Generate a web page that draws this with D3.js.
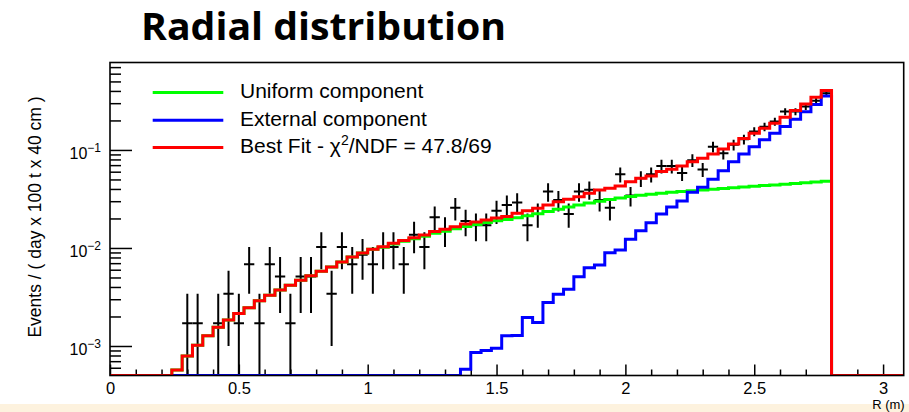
<!DOCTYPE html>
<html>
<head>
<meta charset="utf-8">
<script src="https://cdn.jsdelivr.net/npm/d3@7"></script>
<style>
  html, body { margin: 0; padding: 0; background: #ffffff; }
  svg { display: block; }
</style>
</head>
<body>
<svg id="chart" width="909" height="412"></svg>
<script>
// ---- Data: event rate per 40 cm radial bin, bins of width 0.04 m starting at R = 0 ----
const binWidth = 0.04;
const rMax = 3.08;
const yMin = 5e-4;
const yMax = 0.78;

// Uniform component (fit), bins 0..69
const uniformComponent = [
  0, 0, 0, 0, 0, 0,
  0.00057, 0.00079, 0.00102, 0.00127, 0.00155, 0.00184, 0.00215, 0.00246, 0.0029, 0.0033,
  0.00373, 0.00416, 0.00468, 0.00522, 0.0058, 0.0064, 0.0072, 0.0081, 0.0089, 0.0097,
  0.0102, 0.0110, 0.0117, 0.0124, 0.0132, 0.0141, 0.0148, 0.0157, 0.0166, 0.0174,
  0.0182, 0.0189, 0.0195, 0.0203, 0.0213, 0.0224, 0.0236, 0.0248, 0.0262, 0.0275,
  0.0288, 0.0300, 0.0312, 0.0324, 0.0335, 0.0345, 0.0354, 0.0362, 0.0370, 0.0377,
  0.0384, 0.0391, 0.0398, 0.0405, 0.0412, 0.0419, 0.0426, 0.0433, 0.0440, 0.0447,
  0.0454, 0.0462, 0.0470, 0.0478
];

// External component (fit), bins 0..69
const externalComponent = [
  0, 0, 0, 0, 0, 0, 0, 0, 0, 0,
  0, 0, 0, 0, 0, 0, 0, 0, 0, 0,
  0, 0, 0, 0, 0, 0, 0, 0, 0, 0,
  0, 0, 0, 0,
  0.00058, 0.00086, 0.0009, 0.00095, 0.00127, 0.00128, 0.00195, 0.00174, 0.00277, 0.00337,
  0.00379, 0.00509, 0.0063, 0.00671, 0.00896, 0.00955, 0.0123, 0.015, 0.0181, 0.0222,
  0.0262, 0.0302, 0.037, 0.0416, 0.0502, 0.0615, 0.076, 0.091, 0.108, 0.127,
  0.148, 0.173, 0.206, 0.246, 0.29, 0.355
];

// Best fit (sum of components), bins 0..69
const bestFit = [
  0, 0, 0, 0, 0, 0,
  0.00057, 0.00079, 0.00102, 0.00127, 0.00155, 0.00184, 0.00215, 0.00246, 0.0029, 0.0033,
  0.00373, 0.00416, 0.00468, 0.00522, 0.0058, 0.0064, 0.0072, 0.0081, 0.0089, 0.0097,
  0.0103, 0.0112, 0.0119, 0.0127, 0.0136, 0.0147, 0.0155, 0.0165, 0.0176, 0.0184,
  0.0193, 0.0202, 0.0210, 0.0226, 0.0240, 0.0254, 0.0275, 0.0297, 0.0314, 0.0334,
  0.0362, 0.0391, 0.0406, 0.0429, 0.0475, 0.0514, 0.0543, 0.0601, 0.0636, 0.0687,
  0.076, 0.0822, 0.091, 0.102, 0.115, 0.131, 0.148, 0.166, 0.187, 0.216,
  0.252, 0.294, 0.345, 0.403
];

// Measured points: bin centre (m), rate, statistical error
const dataR = [
  0.30, 0.34, 0.42, 0.46, 0.50, 0.54, 0.58, 0.62, 0.66, 0.70,
  0.74, 0.78, 0.82, 0.86, 0.90, 0.94, 0.98, 1.02, 1.06, 1.10,
  1.14, 1.18, 1.22, 1.26, 1.30, 1.34, 1.38, 1.42, 1.46, 1.50,
  1.54, 1.58, 1.62, 1.66, 1.70, 1.74, 1.78, 1.82, 1.86, 1.90,
  1.94, 1.98, 2.02, 2.06, 2.10, 2.14, 2.18, 2.22, 2.26, 2.30,
  2.34, 2.38, 2.42, 2.46, 2.50, 2.54, 2.58, 2.62, 2.66, 2.70,
  2.74, 2.78
];
const dataRate = [
  0.00171, 0.00171, 0.00171, 0.00342, 0.00171, 0.00684, 0.00171, 0.00684, 0.00513, 0.00171,
  0.00513, 0.00513, 0.01026, 0.00342, 0.01026, 0.00684, 0.00855, 0.00684, 0.01026, 0.01026,
  0.00684, 0.01368, 0.01026, 0.02052, 0.01539, 0.02565, 0.01881, 0.0171, 0.0171, 0.02394,
  0.02736, 0.02907, 0.0171, 0.02223, 0.03762, 0.03078, 0.02223, 0.03762, 0.03933, 0.03078,
  0.02565, 0.05643, 0.0342, 0.0513, 0.05643, 0.0684, 0.0684, 0.05814, 0.07866, 0.06327,
  0.10773, 0.09234, 0.11286, 0.12825, 0.1539, 0.17271, 0.19494, 0.24624, 0.24624, 0.27702,
  0.31806, 0.37962
];
const dataErr = [
  0.00171, 0.00171, 0.00171, 0.00242, 0.00171, 0.00342, 0.00171, 0.00342, 0.00296, 0.00171,
  0.00296, 0.00296, 0.00419, 0.00242, 0.00419, 0.00342, 0.00382, 0.00342, 0.00419, 0.00419,
  0.00342, 0.00484, 0.00419, 0.00592, 0.00513, 0.00662, 0.00567, 0.00541, 0.00541, 0.0064,
  0.00684, 0.00705, 0.00541, 0.00617, 0.00802, 0.00725, 0.00617, 0.00802, 0.0082, 0.00725,
  0.00662, 0.00982, 0.00765, 0.00937, 0.00982, 0.01081, 0.01081, 0.00997, 0.0116, 0.0104,
  0.01357, 0.01257, 0.01389, 0.01481, 0.01622, 0.01719, 0.01826, 0.02052, 0.02052, 0.02176,
  0.02332, 0.02548
];

// Axis ticks and labels
const xMajorTicks = [0, 0.5, 1, 1.5, 2, 2.5, 3];
const xMajorLabels = ["0", "0.5", "1", "1.5", "2", "2.5", "3"];
const yDecades = [1e-3, 1e-2, 1e-1];
const yDecadeExponents = ["\u22123", "\u22122", "\u22121"];

const titleText = "Radial distribution";
const xTitle = "R (m)";
const yTitle = "Events / ( day x 100 t x 40 cm )";
const legendNames = ["Uniform component", "External component", "Best Fit - "];
const legendColors = ["#00ff00", "#0000ff", "#ff0000"];

// ---- Layout ----
const W = 909, H = 412;
const frame = { left: 110, right: 903.7, top: 62.5, bottom: 375.5 };
const rootFont = "'Liberation Sans', Arial, Helvetica, sans-serif";

const svg = d3.select("#chart");

svg.append("rect").attr("x", 0).attr("y", 0).attr("width", W).attr("height", H).attr("fill", "#ffffff");
// pale band along the bottom edge
svg.append("rect").attr("x", 0).attr("y", 404).attr("width", W).attr("height", H - 404).attr("fill", "#fdf2de");

const x = d3.scaleLinear().domain([0, rMax]).range([frame.left, frame.right]);
const y = d3.scaleLog().domain([yMin, yMax]).range([frame.bottom, frame.top]);

svg.append("defs").append("clipPath").attr("id", "plotClip")
  .append("rect")
  .attr("x", frame.left).attr("y", frame.top - 2)
  .attr("width", frame.right - frame.left).attr("height", frame.bottom - frame.top + 2);

// ---- Title ----
svg.append("text")
  .attr("x", 141).attr("y", 40)
  .attr("font-family", "'Open Sans', 'Noto Sans', sans-serif")
  .attr("font-weight", 700)
  .attr("font-size", 37)
  .attr("textLength", 365)
  .attr("lengthAdjust", "spacingAndGlyphs")
  .attr("fill", "#000")
  .text(titleText);

// ---- Axes ----
const nMinorX = Math.round(rMax / 0.1);
const xMinor = d3.range(0, nMinorX + 1).map(k => +(k * 0.1).toFixed(2)).filter(v => v <= rMax && xMajorTicks.indexOf(v) < 0);

const xAxisMinor = d3.axisBottom(x).tickValues(xMinor).tickSize(-6).tickSizeOuter(0).tickFormat("");
const xAxisMajor = d3.axisBottom(x).tickValues(xMajorTicks).tickSize(-11).tickSizeOuter(0)
  .tickPadding(6.5).tickFormat((d, i) => xMajorLabels[i]);

const gxMinor = svg.append("g").attr("transform", `translate(0,${frame.bottom})`).call(xAxisMinor);
const gxMajor = svg.append("g").attr("transform", `translate(0,${frame.bottom})`).call(xAxisMajor);
[gxMinor, gxMajor].forEach(g => {
  g.select(".domain").remove();
  g.selectAll("line").attr("stroke", "#000").attr("stroke-width", 1.5);
});
gxMajor.selectAll("text")
  .attr("font-family", rootFont).attr("font-size", 16.5).attr("fill", "#000");

// y: minor ticks at 2..9 x decade, major at decades
const yMinor = [];
for (let e = -4; e <= 0; e++) {
  for (let m = 1; m <= 9; m++) {
    const v = m * Math.pow(10, e);
    if (m > 1 && v >= yMin * 1.0001 && v <= yMax) yMinor.push(v);
  }
}
const yAxisMinor = d3.axisLeft(y).tickValues(yMinor).tickSize(-11).tickSizeOuter(0).tickFormat("");
const yAxisMajor = d3.axisLeft(y).tickValues(yDecades).tickSize(-22).tickSizeOuter(0).tickFormat("");
const gyMinor = svg.append("g").attr("transform", `translate(${frame.left},0)`).call(yAxisMinor);
const gyMajor = svg.append("g").attr("transform", `translate(${frame.left},0)`).call(yAxisMajor);
[gyMinor, gyMajor].forEach(g => {
  g.select(".domain").remove();
  g.selectAll("line").attr("stroke", "#000").attr("stroke-width", 1.5);
});

// decade labels 10^n
const yLab = svg.append("g");
yDecades.forEach((v, i) => {
  const t = yLab.append("text")
    .attr("x", 101).attr("y", y(v) + 9)
    .attr("text-anchor", "end")
    .attr("font-family", rootFont).attr("font-size", 16).attr("fill", "#000");
  t.append("tspan").text("10");
  t.append("tspan").attr("font-size", 12).attr("dy", -7).text(yDecadeExponents[i]);
});

// axis titles
svg.append("text")
  .attr("transform", `translate(41,${(frame.top + frame.bottom) / 2 - 2}) rotate(-90)`)
  .attr("text-anchor", "middle")
  .attr("font-family", rootFont).attr("font-size", 17.5).attr("fill", "#000")
  .text(yTitle);

svg.append("text")
  .attr("x", frame.right + 1).attr("y", 409)
  .attr("text-anchor", "end")
  .attr("font-family", rootFont).attr("font-size", 13).attr("fill", "#000")
  .text(xTitle);

// ---- Plot content ----
const plot = svg.append("g").attr("clip-path", "url(#plotClip)");

// data points with error bars
const halfBin = binWidth / 2;
const pts = plot.append("g").attr("stroke", "#000").attr("stroke-width", 2).attr("fill", "none");
dataR.forEach((r, i) => {
  const v = dataRate[i], e = dataErr[i];
  const lo = Math.max(v - e, yMin * 0.5);
  pts.append("line")
    .attr("x1", x(r)).attr("x2", x(r))
    .attr("y1", Math.min(y(lo), frame.bottom + 2)).attr("y2", y(v + e));
  pts.append("line")
    .attr("x1", x(r - halfBin)).attr("x2", x(r + halfBin))
    .attr("y1", y(v)).attr("y2", y(v));
});

// histogram outlines
const nBins = Math.round(rMax / binWidth);
function stepPoints(vals) {
  const out = [];
  for (let i = 0; i < nBins; i++) {
    const raw = vals[i] || 0;
    const v = raw > yMin ? raw : yMin;
    out.push([i * binWidth, v], [(i + 1) * binWidth, v]);
  }
  return out;
}
const stepLine = d3.line().x(d => x(d[0])).y(d => y(d[1]));

[[uniformComponent, legendColors[0]], [externalComponent, legendColors[1]], [bestFit, legendColors[2]]]
  .forEach(([vals, col]) => {
    plot.append("path")
      .attr("d", stepLine(stepPoints(vals)))
      .attr("fill", "none")
      .attr("stroke", col)
      .attr("stroke-width", 3)
      .attr("stroke-linejoin", "miter");
  });

// frame
svg.append("rect")
  .attr("x", frame.left).attr("y", frame.top)
  .attr("width", frame.right - frame.left).attr("height", frame.bottom - frame.top)
  .attr("fill", "none").attr("stroke", "#000").attr("stroke-width", 1.6);

// ---- Legend ----
const leg = svg.append("g");
const legY = [98.3, 126, 153.3];
legendNames.forEach((name, i) => {
  leg.append("line")
    .attr("x1", 152.7).attr("x2", 223.3)
    .attr("y1", legY[i] - 5.7).attr("y2", legY[i] - 5.7)
    .attr("stroke", legendColors[i]).attr("stroke-width", 3);
  const t = leg.append("text")
    .attr("x", 240).attr("y", legY[i])
    .attr("font-family", rootFont).attr("font-size", 21).attr("fill", "#000");
  t.append("tspan").text(name);
  if (i === 2) {
    t.append("tspan").text("\u03c7");
    t.append("tspan").attr("font-size", 14).attr("dy", -8).text("2");
    t.append("tspan").attr("dy", 8).text("/NDF = 47.8/69");
  }
});
</script>
</body>
</html>
